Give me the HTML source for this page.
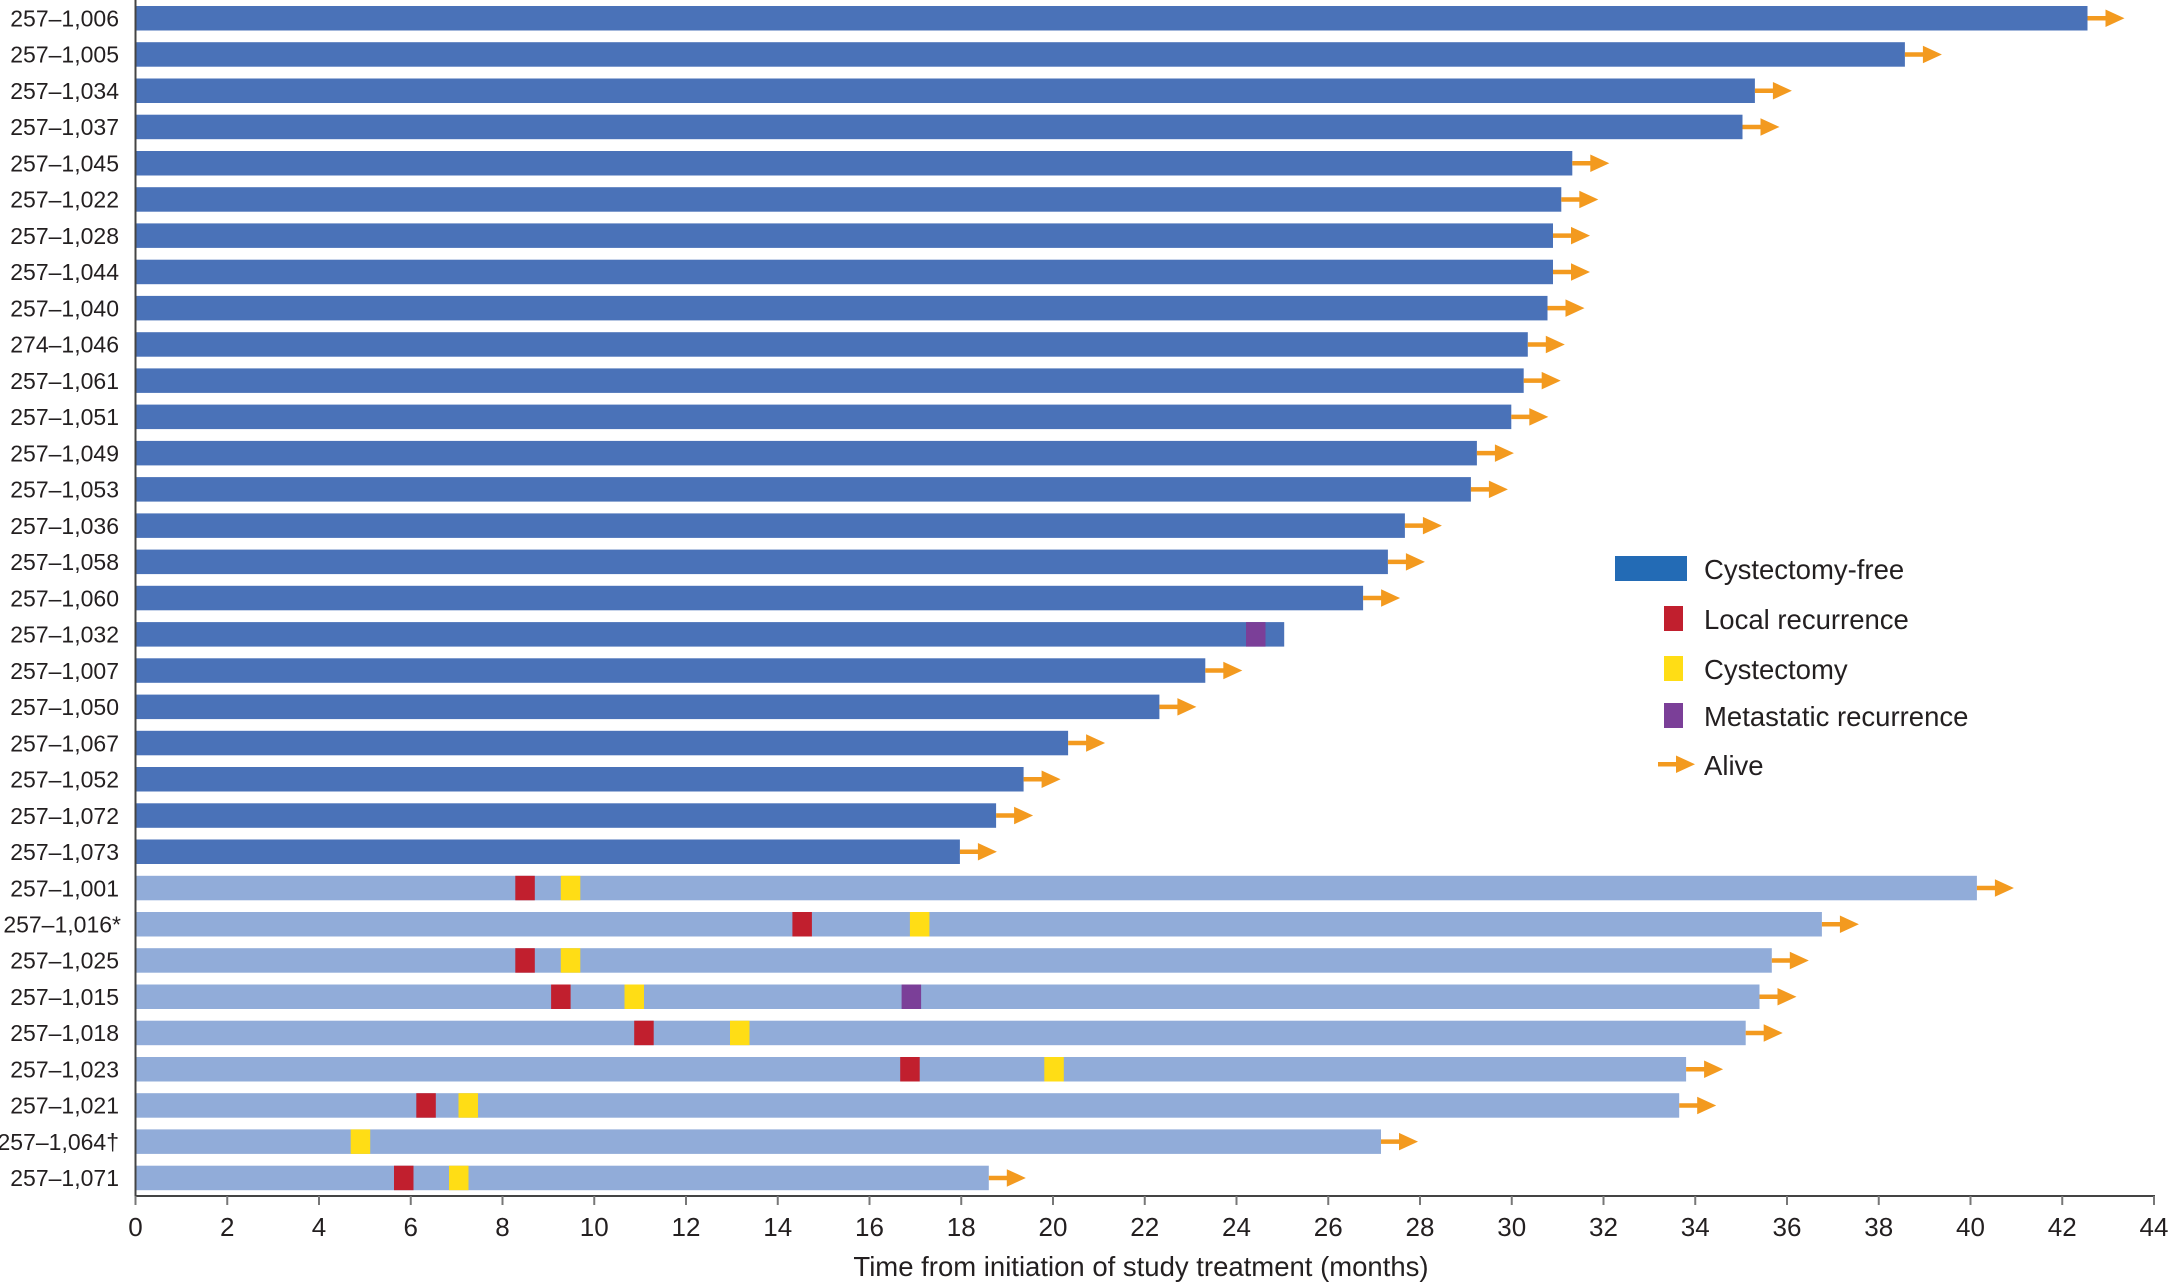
<!DOCTYPE html>
<html><head><meta charset="utf-8"><style>body{margin:0;background:#fff}svg{display:block}text{font-family:"Liberation Sans",sans-serif;fill:#231f20}</style></head><body>
<svg width="2168" height="1283" viewBox="0 0 2168 1283" xmlns="http://www.w3.org/2000/svg">
<defs>
<g id="a"><path d="M0 12.25H24" stroke="#f39a1f" stroke-width="4.5"/><polygon points="18,3.5 37,12.25 18,21" fill="#f39a1f"/></g>
</defs>
<g font-size="23" text-anchor="end">
<g transform="translate(0,6)"><rect x="135.5" width="1952" height="24.5" fill="#4a72b8"/><use href="#a" x="2087.5"/><text x="119" y="20.5">257–1,006</text></g>
<g transform="translate(0,42.2)"><rect x="135.5" width="1769.4" height="24.5" fill="#4a72b8"/><use href="#a" x="1904.9"/><text x="119" y="20.5">257–1,005</text></g>
<g transform="translate(0,78.5)"><rect x="135.5" width="1619.4" height="24.5" fill="#4a72b8"/><use href="#a" x="1754.9"/><text x="119" y="20.5">257–1,034</text></g>
<g transform="translate(0,114.7)"><rect x="135.5" width="1607" height="24.5" fill="#4a72b8"/><use href="#a" x="1742.5"/><text x="119" y="20.5">257–1,037</text></g>
<g transform="translate(0,151)"><rect x="135.5" width="1436.8" height="24.5" fill="#4a72b8"/><use href="#a" x="1572.3"/><text x="119" y="20.5">257–1,045</text></g>
<g transform="translate(0,187.2)"><rect x="135.5" width="1425.8" height="24.5" fill="#4a72b8"/><use href="#a" x="1561.3"/><text x="119" y="20.5">257–1,022</text></g>
<g transform="translate(0,223.4)"><rect x="135.5" width="1417.5" height="24.5" fill="#4a72b8"/><use href="#a" x="1553"/><text x="119" y="20.5">257–1,028</text></g>
<g transform="translate(0,259.7)"><rect x="135.5" width="1417.5" height="24.5" fill="#4a72b8"/><use href="#a" x="1553"/><text x="119" y="20.5">257–1,044</text></g>
<g transform="translate(0,295.9)"><rect x="135.5" width="1412" height="24.5" fill="#4a72b8"/><use href="#a" x="1547.5"/><text x="119" y="20.5">257–1,040</text></g>
<g transform="translate(0,332.2)"><rect x="135.5" width="1392.3" height="24.5" fill="#4a72b8"/><use href="#a" x="1527.8"/><text x="119" y="20.5">274–1,046</text></g>
<g transform="translate(0,368.4)"><rect x="135.5" width="1388.2" height="24.5" fill="#4a72b8"/><use href="#a" x="1523.7"/><text x="119" y="20.5">257–1,061</text></g>
<g transform="translate(0,404.6)"><rect x="135.5" width="1375.8" height="24.5" fill="#4a72b8"/><use href="#a" x="1511.3"/><text x="119" y="20.5">257–1,051</text></g>
<g transform="translate(0,440.9)"><rect x="135.5" width="1341.4" height="24.5" fill="#4a72b8"/><use href="#a" x="1476.9"/><text x="119" y="20.5">257–1,049</text></g>
<g transform="translate(0,477.1)"><rect x="135.5" width="1335.4" height="24.5" fill="#4a72b8"/><use href="#a" x="1470.9"/><text x="119" y="20.5">257–1,053</text></g>
<g transform="translate(0,513.4)"><rect x="135.5" width="1269.4" height="24.5" fill="#4a72b8"/><use href="#a" x="1404.9"/><text x="119" y="20.5">257–1,036</text></g>
<g transform="translate(0,549.6)"><rect x="135.5" width="1252.4" height="24.5" fill="#4a72b8"/><use href="#a" x="1387.9"/><text x="119" y="20.5">257–1,058</text></g>
<g transform="translate(0,585.8)"><rect x="135.5" width="1227.6" height="24.5" fill="#4a72b8"/><use href="#a" x="1363.1"/><text x="119" y="20.5">257–1,060</text></g>
<g transform="translate(0,622.1)"><rect x="135.5" width="1148.7" height="24.5" fill="#4a72b8"/><rect x="1246" width="19.5" height="24.5" fill="#7b3f98"/><text x="119" y="20.5">257–1,032</text></g>
<g transform="translate(0,658.3)"><rect x="135.5" width="1069.8" height="24.5" fill="#4a72b8"/><use href="#a" x="1205.3"/><text x="119" y="20.5">257–1,007</text></g>
<g transform="translate(0,694.6)"><rect x="135.5" width="1023.9" height="24.5" fill="#4a72b8"/><use href="#a" x="1159.4"/><text x="119" y="20.5">257–1,050</text></g>
<g transform="translate(0,730.8)"><rect x="135.5" width="932.6" height="24.5" fill="#4a72b8"/><use href="#a" x="1068.1"/><text x="119" y="20.5">257–1,067</text></g>
<g transform="translate(0,767)"><rect x="135.5" width="888.1" height="24.5" fill="#4a72b8"/><use href="#a" x="1023.6"/><text x="119" y="20.5">257–1,052</text></g>
<g transform="translate(0,803.3)"><rect x="135.5" width="860.6" height="24.5" fill="#4a72b8"/><use href="#a" x="996.1"/><text x="119" y="20.5">257–1,072</text></g>
<g transform="translate(0,839.5)"><rect x="135.5" width="824.4" height="24.5" fill="#4a72b8"/><use href="#a" x="959.9"/><text x="119" y="20.5">257–1,073</text></g>
<g transform="translate(0,875.8)"><rect x="135.5" width="1841.4" height="24.5" fill="#91acd9"/><rect x="515.3" width="19.5" height="24.5" fill="#c11f2e"/><rect x="560.8" width="19.5" height="24.5" fill="#ffdd15"/><use href="#a" x="1976.9"/><text x="119" y="20.5">257–1,001</text></g>
<g transform="translate(0,912)"><rect x="135.5" width="1686.4" height="24.5" fill="#91acd9"/><rect x="792.4" width="19.5" height="24.5" fill="#c11f2e"/><rect x="909.9" width="19.5" height="24.5" fill="#ffdd15"/><use href="#a" x="1821.9"/><text x="121" y="20.5">257–1,016*</text></g>
<g transform="translate(0,948.2)"><rect x="135.5" width="1636.3" height="24.5" fill="#91acd9"/><rect x="515.3" width="19.5" height="24.5" fill="#c11f2e"/><rect x="560.8" width="19.5" height="24.5" fill="#ffdd15"/><use href="#a" x="1771.8"/><text x="119" y="20.5">257–1,025</text></g>
<g transform="translate(0,984.5)"><rect x="135.5" width="1624" height="24.5" fill="#91acd9"/><rect x="551.1" width="19.5" height="24.5" fill="#c11f2e"/><rect x="624.5" width="19.5" height="24.5" fill="#ffdd15"/><rect x="901.6" width="19.5" height="24.5" fill="#7b3f98"/><use href="#a" x="1759.5"/><text x="119" y="20.5">257–1,015</text></g>
<g transform="translate(0,1020.7)"><rect x="135.5" width="1610.2" height="24.5" fill="#91acd9"/><rect x="634.2" width="19.5" height="24.5" fill="#c11f2e"/><rect x="730" width="19.5" height="24.5" fill="#ffdd15"/><use href="#a" x="1745.7"/><text x="119" y="20.5">257–1,018</text></g>
<g transform="translate(0,1057)"><rect x="135.5" width="1550.6" height="24.5" fill="#91acd9"/><rect x="900.2" width="19.5" height="24.5" fill="#c11f2e"/><rect x="1044.3" width="19.5" height="24.5" fill="#ffdd15"/><use href="#a" x="1686.1"/><text x="119" y="20.5">257–1,023</text></g>
<g transform="translate(0,1093.2)"><rect x="135.5" width="1543.7" height="24.5" fill="#91acd9"/><rect x="416.3" width="19.5" height="24.5" fill="#c11f2e"/><rect x="458.5" width="19.5" height="24.5" fill="#ffdd15"/><use href="#a" x="1679.2"/><text x="119" y="20.5">257–1,021</text></g>
<g transform="translate(0,1129.4)"><rect x="135.5" width="1245.5" height="24.5" fill="#91acd9"/><rect x="350.7" width="19.5" height="24.5" fill="#ffdd15"/><use href="#a" x="1381"/><text x="119" y="20.5">257–1,064†</text></g>
<g transform="translate(0,1165.7)"><rect x="135.5" width="853.3" height="24.5" fill="#91acd9"/><rect x="394" width="19.5" height="24.5" fill="#c11f2e"/><rect x="449" width="19.5" height="24.5" fill="#ffdd15"/><use href="#a" x="988.8"/><text x="119" y="20.5">257–1,071</text></g>
</g>
<g stroke="#444" stroke-width="2">
<line x1="135.5" y1="0" x2="135.5" y2="1197"/>
<line x1="135.5" y1="1196" x2="2155" y2="1196"/>
<g stroke="#777">
<line x1="135.5" y1="1196" x2="135.5" y2="1205"/><line x1="227.25" y1="1196" x2="227.25" y2="1205"/><line x1="319" y1="1196" x2="319" y2="1205"/><line x1="410.75" y1="1196" x2="410.75" y2="1205"/><line x1="502.5" y1="1196" x2="502.5" y2="1205"/><line x1="594.25" y1="1196" x2="594.25" y2="1205"/><line x1="686" y1="1196" x2="686" y2="1205"/><line x1="777.75" y1="1196" x2="777.75" y2="1205"/><line x1="869.5" y1="1196" x2="869.5" y2="1205"/><line x1="961.25" y1="1196" x2="961.25" y2="1205"/><line x1="1053" y1="1196" x2="1053" y2="1205"/><line x1="1144.75" y1="1196" x2="1144.75" y2="1205"/><line x1="1236.5" y1="1196" x2="1236.5" y2="1205"/><line x1="1328.25" y1="1196" x2="1328.25" y2="1205"/><line x1="1420" y1="1196" x2="1420" y2="1205"/><line x1="1511.75" y1="1196" x2="1511.75" y2="1205"/><line x1="1603.5" y1="1196" x2="1603.5" y2="1205"/><line x1="1695.25" y1="1196" x2="1695.25" y2="1205"/><line x1="1787" y1="1196" x2="1787" y2="1205"/><line x1="1878.75" y1="1196" x2="1878.75" y2="1205"/><line x1="1970.5" y1="1196" x2="1970.5" y2="1205"/><line x1="2062.25" y1="1196" x2="2062.25" y2="1205"/><line x1="2154" y1="1196" x2="2154" y2="1205"/>
</g></g>
<g font-size="26" text-anchor="middle">
<text x="135.5" y="1236">0</text><text x="227.25" y="1236">2</text><text x="319" y="1236">4</text><text x="410.75" y="1236">6</text><text x="502.5" y="1236">8</text><text x="594.25" y="1236">10</text><text x="686" y="1236">12</text><text x="777.75" y="1236">14</text><text x="869.5" y="1236">16</text><text x="961.25" y="1236">18</text><text x="1053" y="1236">20</text><text x="1144.75" y="1236">22</text><text x="1236.5" y="1236">24</text><text x="1328.25" y="1236">26</text><text x="1420" y="1236">28</text><text x="1511.75" y="1236">30</text><text x="1603.5" y="1236">32</text><text x="1695.25" y="1236">34</text><text x="1787" y="1236">36</text><text x="1878.75" y="1236">38</text><text x="1970.5" y="1236">40</text><text x="2062.25" y="1236">42</text><text x="2154" y="1236">44</text>
<text x="1141" y="1276" font-size="27.5">Time from initiation of study treatment (months)</text>
</g>
<rect x="1615" y="556" width="72" height="25" fill="#236bb5"/>
<rect x="1664" y="606" width="19" height="25" fill="#c11f2e"/>
<rect x="1664" y="656" width="19" height="25" fill="#ffdd15"/>
<rect x="1664" y="703" width="19" height="25" fill="#7b3f98"/>
<use href="#a" x="1658" y="752"/>
<g font-size="27.5">
<text x="1704" y="579">Cystectomy-free</text>
<text x="1704" y="629">Local recurrence</text>
<text x="1704" y="679">Cystectomy</text>
<text x="1704" y="726">Metastatic recurrence</text>
<text x="1704" y="775">Alive</text>
</g>
</svg>
</body></html>
